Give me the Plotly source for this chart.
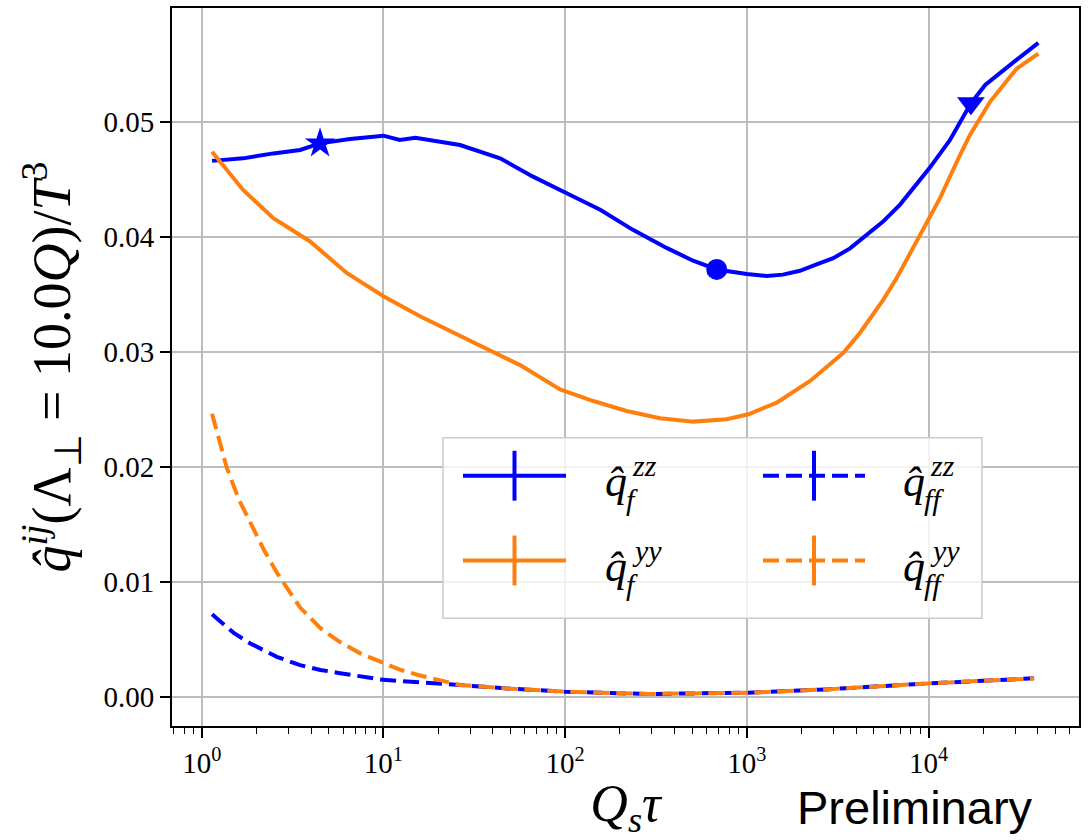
import plotly.graph_objects as go

# ---------------- data ----------------
tau_zz_f = [1.14, 1.69, 2.48, 3.48, 4.48, 6.55, 10.0, 12.3, 15.0, 18.8, 26.4, 43.9, 66.6,
            102, 156, 236, 364, 506, 683, 1000, 1290, 1580, 1960, 2420, 2990, 3700, 4570,
            5620, 6970, 8610, 10100, 13100, 17100, 20500, 24800, 30600, 40200]
q_zz_f = [0.04660, 0.04682, 0.04725, 0.04755, 0.04812, 0.04850, 0.04879, 0.04841, 0.04860,
          0.04833, 0.04798, 0.04682, 0.04523, 0.04379, 0.04235, 0.04061, 0.03902, 0.03793,
          0.03717, 0.03678, 0.03660, 0.03672, 0.03705, 0.03760, 0.03815, 0.03900, 0.04018,
          0.04133, 0.04280, 0.04460, 0.04595, 0.04840, 0.05160, 0.05320, 0.05420, 0.05540,
          0.05685]
marker_index = [4, 18, 32]          # points of q_zz_f carrying markers
marker_symbols = ["star", "circle", "triangle-down"]

tau_yy_f = [1.14, 1.69, 2.48, 3.95, 6.28, 10.0, 15.9, 30.0, 56.5, 93.8, 143, 218, 333, 508,
            775, 1020, 1460, 2230, 3400, 4200, 5640, 6680, 8610, 10100, 11560, 14900,
            16900, 21800, 24800, 28100, 30600, 40200]
q_yy_f = [0.04740, 0.04408, 0.04163, 0.03960, 0.03686, 0.03484, 0.03310, 0.03094, 0.02886,
          0.02675, 0.02574, 0.02487, 0.02424, 0.02395, 0.02415, 0.02459, 0.02560, 0.02748,
          0.02993, 0.03167, 0.03455, 0.03642, 0.03960, 0.04163, 0.04336, 0.04711, 0.04885,
          0.05173, 0.05289, 0.05390, 0.05462, 0.05592]

tau_zz_ff = [1.14, 1.5, 1.85, 2.59, 3.48, 4.5, 5.77, 7.5, 9.58, 12.3, 15.9, 26.4, 50.0,
             99.7, 286, 1020, 2730, 10000, 38100]
q_zz_ff = [0.00722, 0.00560, 0.00468, 0.00352, 0.00280, 0.00238, 0.00210, 0.00180, 0.00156,
           0.00142, 0.00128, 0.00107, 0.00075, 0.00049, 0.00029, 0.00040, 0.00069, 0.00121,
           0.00165]

tau_yy_ff = [1.14, 1.25, 1.37, 1.60, 1.85, 2.2, 2.6, 3.06, 3.48, 4.5, 5.77, 7.5, 9.58, 12.3,
             15.9, 26.4, 50.0, 99.7, 286, 1020, 2730, 10000, 38100]
q_yy_ff = [0.02464, 0.02220, 0.02000, 0.01720, 0.01520, 0.01280, 0.01080, 0.00910, 0.00780,
           0.00600, 0.00480, 0.00380, 0.00309, 0.00240, 0.00190, 0.00107, 0.00075, 0.00049,
           0.00029, 0.00040, 0.00069, 0.00121, 0.00165]

x_tick_vals = [1, 10, 100, 1000, 10000]
x_tick_text = ["10<sup>0</sup>", "10<sup>1</sup>", "10<sup>2</sup>", "10<sup>3</sup>", "10<sup>4</sup>"]
y_tick_vals = [0.00, 0.01, 0.02, 0.03, 0.04, 0.05]
y_tick_text = ["0.00", "0.01", "0.02", "0.03", "0.04", "0.05"]

legend_sup = ["zz", "yy", "zz", "yy"]
legend_sub = ["f", "f", "ff", "ff"]

BLUE = "#0000ff"
ORANGE = "#ff7f0e"
DASH = "16px,7px"
SERIF = "Liberation Serif"

minor_vals = [m * 10 ** e for e in range(-1, 5) for m in range(2, 10)
              if 0.68 < m * 10 ** e < 70000]

fig = go.Figure()
fig.add_trace(go.Scatter(x=tau_zz_f, y=q_zz_f, mode="lines",
                         line=dict(color=BLUE, width=4), showlegend=False))
fig.add_trace(go.Scatter(x=[tau_zz_f[i] for i in marker_index],
                         y=[q_zz_f[i] for i in marker_index], mode="markers",
                         marker=dict(color=BLUE, size=[23, 21, 24], symbol=marker_symbols,
                                     opacity=1, line=dict(width=0)), showlegend=False))
fig.add_trace(go.Scatter(x=tau_zz_ff, y=q_zz_ff, mode="lines",
                         line=dict(color=BLUE, width=4, dash=DASH), showlegend=False))
fig.add_trace(go.Scatter(x=tau_yy_f, y=q_yy_f, mode="lines",
                         line=dict(color=ORANGE, width=4), showlegend=False))
fig.add_trace(go.Scatter(x=tau_yy_ff, y=q_yy_ff, mode="lines",
                         line=dict(color=ORANGE, width=4, dash=DASH), showlegend=False))

# ---------------- layout helpers (pixel -> paper) ----------------
PL, PR, PT, PB = 172, 1079, 6, 726
def fx(px):
    return (px - PL) / (PR - PL)
def fy(py):
    return (PB - py) / (PB - PT)

shapes = []
annotations = []
# legend box
shapes.append(dict(type="rect", xref="paper", yref="paper", x0=fx(443), x1=fx(982),
                   y0=fy(618), y1=fy(437), line=dict(color="#cccccc", width=1.5),
                   fillcolor="rgba(255,255,255,0.8)", layer="above"))
legend_colors = [BLUE, ORANGE, BLUE, ORANGE]
legend_dash = ["solid", "solid", DASH, DASH]
col_line = [(463, 566), (763, 865)]
col_text = [603, 901]
row_y = [475, 560]
for k in range(4):
    c, r = k // 2, k % 2
    x0, x1 = col_line[c]
    yy = row_y[r]
    shapes.append(dict(type="line", xref="paper", yref="paper", x0=fx(x0), x1=fx(x1),
                       y0=fy(yy), y1=fy(yy),
                       line=dict(color=legend_colors[k], width=4, dash=legend_dash[k])))
    xm = (x0 + x1) / 2
    shapes.append(dict(type="line", xref="paper", yref="paper", x0=fx(xm), x1=fx(xm),
                       y0=fy(yy - 25), y1=fy(yy + 25),
                       line=dict(color=legend_colors[k], width=4)))
    tx = col_text[c]
    annotations.append(dict(xref="paper", yref="paper", x=fx(tx), y=fy(yy + 6),
                            xanchor="left", yanchor="middle", showarrow=False,
                            text="<i>q\u0302</i>", font=dict(family=SERIF, size=44, color="black")))
    annotations.append(dict(xref="paper", yref="paper", x=fx(tx + 27), y=fy(yy - 10),
                            xanchor="left", yanchor="middle", showarrow=False,
                            text="<i>" + legend_sup[k] + "</i>",
                            font=dict(family=SERIF, size=30, color="black")))
    annotations.append(dict(xref="paper", yref="paper", x=fx(tx + 21), y=fy(yy + 24),
                            xanchor="left", yanchor="middle", showarrow=False,
                            text="<i>" + legend_sub[k] + "</i>",
                            font=dict(family=SERIF, size=30, color="black")))

annotations.append(dict(xref="paper", yref="paper", x=fx(915), y=fy(808),
                        xanchor="center", yanchor="middle", showarrow=False,
                        text="Preliminary",
                        font=dict(family="Liberation Sans", size=47, color="black")))

fig.update_layout(
    width=1089, height=840, autosize=False,
    margin=dict(l=PL, r=1089 - PR, t=PT, b=840 - PB),
    paper_bgcolor="white", plot_bgcolor="white",
    font=dict(family=SERIF, size=29, color="black"),
    shapes=shapes, annotations=annotations, showlegend=False,
)
fig.update_xaxes(
    type="log", range=[-0.1635, 4.828],
    tickvals=x_tick_vals, ticktext=x_tick_text,
    ticks="outside", ticklen=10, tickwidth=1.6, tickcolor="black",
    showline=True, mirror=True, linecolor="black", linewidth=2,
    showgrid=True, gridcolor="#bdbdbd", gridwidth=1.6, zeroline=False,
    tickfont=dict(family=SERIF, size=29),
    minor=dict(tickvals=minor_vals, ticks="outside", ticklen=6, tickwidth=1.3,
               tickcolor="black", showgrid=False),
    title=dict(text="<i>Q</i><sub><i>s</i></sub><i>τ</i>",
               font=dict(family=SERIF, size=52), standoff=10),
)
fig.update_yaxes(
    range=[-0.00249, 0.05988],
    tickvals=y_tick_vals, ticktext=y_tick_text,
    ticks="outside", ticklen=10, tickwidth=1.6, tickcolor="black",
    showline=True, mirror=True, linecolor="black", linewidth=2,
    showgrid=True, gridcolor="#bdbdbd", gridwidth=1.6, zeroline=False,
    tickfont=dict(family=SERIF, size=29),
    title=dict(text="<i>q\u0302</i><sup><i>ij</i></sup>(Λ<sub>⊥</sub> = 10.0<i>Q</i>)/<i>T</i><sup>3</sup>",
               font=dict(family=SERIF, size=54), standoff=16),
)

fig.write_html("out.html")
